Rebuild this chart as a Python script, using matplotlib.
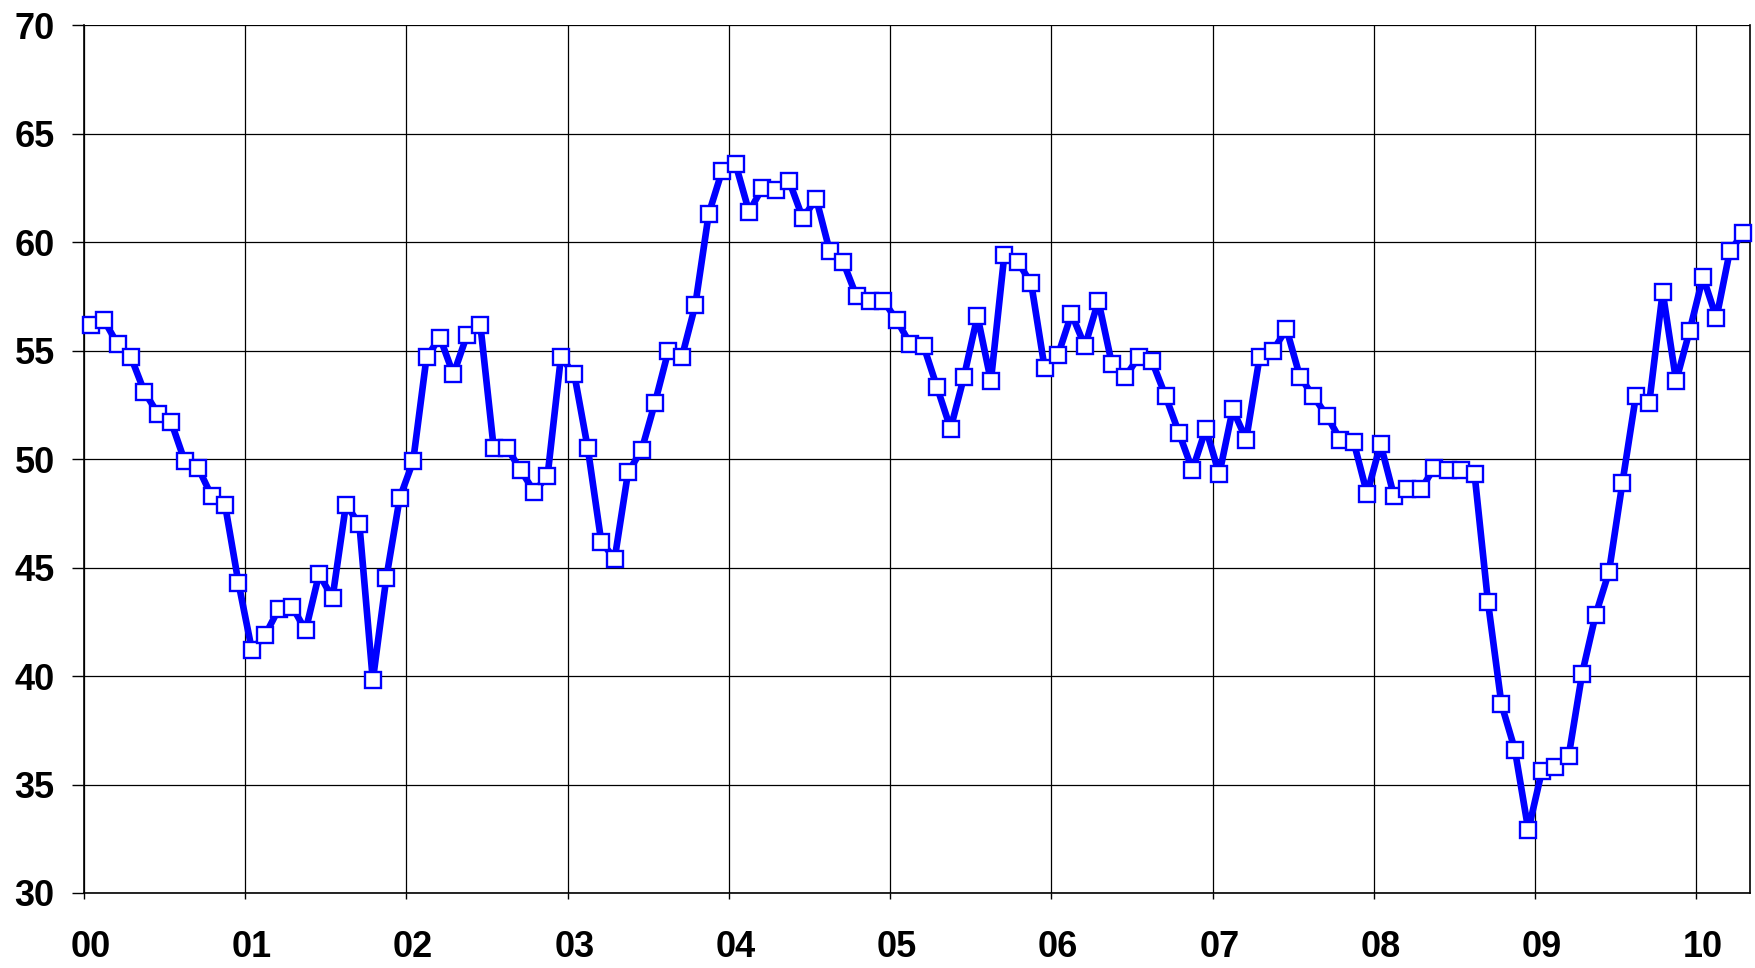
import matplotlib
matplotlib.use("Agg")
import matplotlib.pyplot as plt
import numpy as np

# Monthly index values, Jan 2000 - Apr 2010
values = [
    56.2, 56.4, 55.3, 54.7, 53.1, 52.1, 51.7, 49.9, 49.6, 48.3, 47.9, 44.3,   # 2000
    41.2, 41.9, 43.1, 43.2, 42.1, 44.7, 43.6, 47.9, 47.0, 39.8, 44.5, 48.2,   # 2001
    49.9, 54.7, 55.6, 53.9, 55.7, 56.2, 50.5, 50.5, 49.5, 48.5, 49.2, 54.7,   # 2002
    53.9, 50.5, 46.2, 45.4, 49.4, 50.4, 52.6, 55.0, 54.7, 57.1, 61.3, 63.3,   # 2003
    63.6, 61.4, 62.5, 62.4, 62.8, 61.1, 62.0, 59.6, 59.1, 57.5, 57.3, 57.3,   # 2004
    56.4, 55.3, 55.2, 53.3, 51.4, 53.8, 56.6, 53.6, 59.4, 59.1, 58.1, 54.2,   # 2005
    54.8, 56.7, 55.2, 57.3, 54.4, 53.8, 54.7, 54.5, 52.9, 51.2, 49.5, 51.4,   # 2006
    49.3, 52.3, 50.9, 54.7, 55.0, 56.0, 53.8, 52.9, 52.0, 50.9, 50.8, 48.4,   # 2007
    50.7, 48.3, 48.6, 48.6, 49.6, 49.5, 49.5, 49.3, 43.4, 38.7, 36.6, 32.9,   # 2008
    35.6, 35.8, 36.3, 40.1, 42.8, 44.8, 48.9, 52.9, 52.6, 57.7, 53.6, 55.9,   # 2009
    58.4, 56.5, 59.6, 60.4,                                                   # 2010
]
year_labels = ["00", "01", "02", "03", "04", "05", "06", "07", "08", "09", "10"]
y_ticks = [30, 35, 40, 45, 50, 55, 60, 65, 70]

plt.rcParams['font.family'] = ['Liberation Sans', 'DejaVu Sans']

fig = plt.figure(figsize=(17.56, 9.68), dpi=100)
ax = fig.add_axes([0.0478, 0.0775, 0.9488, 0.8965])

x = np.arange(len(values)) + 0.5
ax.plot(x, values, color='#0000FF', linewidth=4.8, marker='s', markersize=11.5,
        markerfacecolor='white', markeredgecolor='#0000FF', markeredgewidth=1.7,
        zorder=3, clip_on=False)

ax.set_xlim(0, 124)
ax.set_ylim(30, 70)

ax.set_xticks(np.arange(0, 121, 12))
ax.set_xticklabels([])
ax.set_xticks(np.arange(0, 121, 12) + 0.5, minor=True)
ax.set_xticklabels(year_labels, minor=True, fontsize=26, fontweight='bold')
ax.tick_params(axis='x', which='major', length=4, width=1, color='black')
ax.tick_params(axis='x', which='minor', length=0, pad=27)

ax.set_yticks(y_ticks)
ax.set_yticklabels([str(v) for v in y_ticks], fontsize=26, fontweight='bold')
ax.tick_params(axis='y', which='major', length=9, width=1, color='black', pad=12)

ax.grid(True, which='major', color='black', linewidth=0.9)
ax.set_axisbelow(True)

ax.spines['top'].set_visible(False)
for s in ['left', 'right', 'bottom']:
    ax.spines[s].set_color('black')
    ax.spines[s].set_linewidth(1.2)

fig.savefig("out.png", dpi=100)
